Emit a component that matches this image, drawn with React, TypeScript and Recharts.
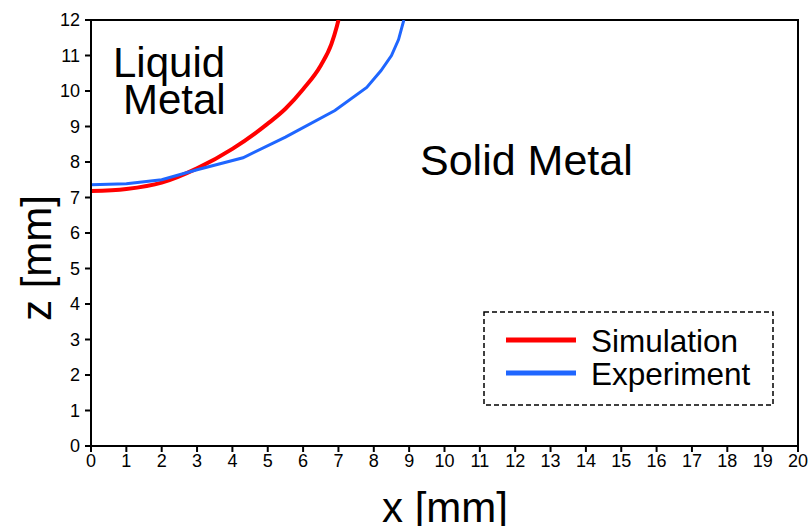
import React from 'react';
import { LineChart, Line, XAxis, YAxis, ReferenceArea, Legend } from 'recharts';

// melt pool boundary
const simX = [0, 1, 2, 3, 4, 5, 5.5, 6, 6.5, 6.8, 6.95, 7.0];
const simZ = [7.18, 7.24, 7.42, 7.82, 8.37, 9.08, 9.5, 10.05, 10.72, 11.32, 11.8, 12];
const expX = [0, 1, 2, 3, 4.3, 5.5, 6.9, 7.8, 8.2, 8.5, 8.7, 8.85];
const expZ = [7.36, 7.39, 7.5, 7.78, 8.12, 8.7, 9.45, 10.1, 10.57, 11.0, 11.45, 12];

const seriesNames = ['Simulation', 'Experiment'];
const xTicks = [0, 1, 2, 3, 4, 5, 6, 7, 8, 9, 10, 11, 12, 13, 14, 15, 16, 17, 18, 19, 20];
const zTicks = [0, 1, 2, 3, 4, 5, 6, 7, 8, 9, 10, 11, 12];

const simData = simX.map((x, i) => ({ x, z: simZ[i] }));
const expData = expX.map((x, i) => ({ x, z: expZ[i] }));

const minorX: number[] = [];
for (let i = 0; i <= 200; i++) if (i % 10 !== 0) minorX.push(i / 10);
const minorZ: number[] = [];
for (let i = 0; i <= 120; i++) if (i % 10 !== 0) minorZ.push(i / 10);

const FONT = 'Liberation Sans, Arial, sans-serif';
const RED = '#ff0000';
const BLUE = '#1f66ff';

const LegendBox = ({ payload }: any) => {
  const items = [...(payload || [])].sort(
    (a: any, b: any) => seriesNames.indexOf(a.value) - seriesNames.indexOf(b.value)
  );
  return (
    <svg width={292} height={96} style={{ display: 'block' }}>
      <rect x={1} y={1} width={289} height={93} fill="none" stroke="#000" strokeWidth={1.5}
        strokeDasharray="5 3" />
      {items.map((p: any, i: number) => (
        <g key={p.value}>
          <line x1={23} x2={93} y1={29 + i * 33} y2={29 + i * 33} stroke={p.color} strokeWidth={5} />
          <text x={108} y={41 + i * 33} fontSize={31.5} fontFamily={FONT} fill="#000">{p.value}</text>
        </g>
      ))}
    </svg>
  );
};

export default function App() {
  return (
    <div style={{ position: 'absolute', left: 0, top: 0 }}>
      <LineChart width={810} height={526} margin={{ top: 20, right: 12, left: 0, bottom: 0 }}>
        <XAxis xAxisId="minor" type="number" dataKey="x" domain={[0, 20]} ticks={minorX} tick={false}
          tickSize={3} axisLine={false} height={0} stroke="#000" />
        <YAxis yAxisId="minor" type="number" dataKey="z" domain={[0, 12]} ticks={minorZ} tick={false}
          tickSize={3} axisLine={false} width={0} stroke="#000" />
        <XAxis type="number" dataKey="x" domain={[0, 20]} ticks={xTicks} interval={0} height={80}
          tickSize={6} tickMargin={2} stroke="#000" strokeWidth={2}
          tick={{ fill: '#000', fontSize: 18, fontFamily: FONT }} />
        <YAxis type="number" dataKey="z" domain={[0, 12]} ticks={zTicks} interval={0} width={91}
          allowDataOverflow tickSize={6} tickMargin={5} stroke="#000" strokeWidth={2}
          tick={{ fill: '#000', fontSize: 18, fontFamily: FONT }} />
        <ReferenceArea x1={0} x2={20} y1={0} y2={12} fill="none" stroke="#000" strokeWidth={2} />
        <Line data={simData} dataKey="z" name="Simulation" type="monotone" stroke={RED} strokeWidth={4}
          dot={false} isAnimationActive={false} />
        <Line data={expData} dataKey="z" name="Experiment" type="linear" stroke={BLUE} strokeWidth={3}
          dot={false} isAnimationActive={false} />
        <Legend layout="horizontal" verticalAlign="middle" align="center" content={<LegendBox />}
          wrapperStyle={{ position: 'absolute', left: 483, top: 311, width: 292, height: 96 }} />
        <text x={113} y={77} fontSize={42} fontFamily={FONT} fill="#000">Liquid</text>
        <text x={123} y={114} fontSize={42} fontFamily={FONT} fill="#000">Metal</text>
        <text x={420} y={175} fontSize={43} fontFamily={FONT} fill="#000">Solid Metal</text>
        <text x={445} y={522} fontSize={42} fontFamily={FONT} fill="#000" textAnchor="middle">x [mm]</text>
        <text x={51} y={258} fontSize={42} fontFamily={FONT} fill="#000" textAnchor="middle"
          transform="rotate(-90 51 258)">z [mm]</text>
      </LineChart>
    </div>
  );
}
